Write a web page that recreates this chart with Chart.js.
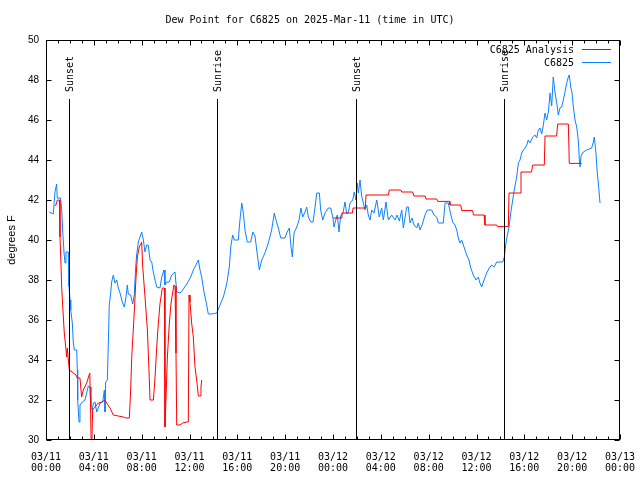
<!DOCTYPE html>
<html>
<head>
<meta charset="utf-8">
<title>Dew Point for C6825</title>
<script src="https://cdn.jsdelivr.net/npm/chart.js@4.4.1/dist/chart.umd.min.js"></script>
<style>
  html, body { margin: 0; padding: 0; background: #fff; }
</style>
</head>
<body>
<canvas id="dewChart" width="640" height="480"></canvas>
<script>
// hours since 03/11 00:00 UTC
const blueHours = [
  0.28, 0.61, 0.75, 0.89, 0.94, 1.21, 1.31, 1.40, 1.51, 1.59, 1.67, 1.86, 1.92, 2.01, 2.07, 2.20,
  2.28, 2.37, 2.57, 2.62, 2.65, 2.76, 2.84, 3.04, 3.26, 3.40, 3.54, 3.68, 3.76, 3.87, 3.96, 4.10,
  4.24, 4.37, 4.52, 4.74, 4.88, 4.93, 4.99, 5.13, 5.21, 5.29, 5.41, 5.49, 5.63, 5.77, 5.91, 6.05,
  6.19, 6.38, 6.55, 6.69, 6.80, 6.88, 7.08, 7.25, 7.38, 7.50, 7.58, 7.72, 7.86, 8.00, 8.14, 8.28,
  8.42, 8.55, 8.70, 8.84, 8.97, 9.12, 9.26, 9.53, 9.68, 9.87, 9.95, 10.09, 10.31, 10.51, 10.79, 10.93,
  11.21, 11.43, 11.77, 12.10, 12.32, 12.54, 12.74, 12.88, 13.02, 13.21, 13.44, 13.57, 13.86, 14.28, 14.55, 14.83,
  15.11, 15.33, 15.45, 15.61, 15.75, 16.08, 16.22, 16.37, 16.50, 16.64, 16.83, 17.12, 17.29, 17.48, 17.62, 17.84,
  18.04, 18.31, 18.59, 18.87, 19.09, 19.23, 19.43, 19.63, 19.99, 20.13, 20.35, 20.49, 20.60, 20.74, 20.97, 21.16,
  21.32, 21.47, 21.66, 21.80, 21.94, 22.14, 22.33, 22.50, 22.64, 22.86, 22.97, 23.14, 23.33, 23.61, 23.81, 23.98,
  24.08, 24.23, 24.36, 24.50, 24.64, 24.84, 25.00, 25.15, 25.30, 25.42, 25.65, 25.78, 25.92, 26.03, 26.12, 26.26,
  26.40, 26.53, 26.68, 26.82, 26.95, 27.10, 27.24, 27.43, 27.66, 27.87, 28.07, 28.21, 28.43, 28.63, 28.91, 29.19,
  29.35, 29.55, 29.75, 29.88, 30.02, 30.16, 30.30, 30.44, 30.61, 30.77, 31.00, 31.13, 31.28, 31.50, 31.69, 31.89,
  32.25, 32.45, 32.67, 32.81, 33.22, 33.37, 33.64, 33.84, 34.01, 34.20, 34.35, 34.48, 34.62, 34.76, 34.90, 35.04,
  35.18, 35.37, 35.52, 35.73, 35.96, 36.15, 36.29, 36.43, 36.57, 36.85, 37.07, 37.27, 37.46, 37.69, 38.19, 38.33,
  38.44, 38.58, 38.72, 38.86, 39.03, 39.16, 39.36, 39.50, 39.64, 39.78, 39.92, 40.06, 40.20, 40.33, 40.47, 40.70,
  40.89, 41.03, 41.17, 41.31, 41.45, 41.59, 41.73, 41.87, 42.01, 42.15, 42.29, 42.42, 42.57, 42.71, 42.84, 42.98,
  43.12, 43.26, 43.40, 43.54, 43.68, 43.76, 43.88, 43.99, 44.10, 44.24, 44.38, 44.51, 44.60, 44.66, 44.74, 44.93,
  45.22, 45.63, 45.77, 45.85, 45.99, 46.10, 46.22, 46.33
];
const blueValues = [
  41.4, 41.3, 42.4, 42.8, 42.1, 42.1, 41.55, 40.4, 39.35, 38.85, 39.4, 39.4, 37.7, 37.0, 36.5, 35.85,
  34.9, 34.5, 34.5, 33.5, 32.0, 30.9, 31.75, 31.9, 32.0, 32.35, 32.7, 32.65, 31.65, 31.5, 31.85, 31.9,
  31.4, 31.6, 31.85, 31.9, 32.5, 31.4, 32.9, 33.0, 34.8, 36.75, 37.35, 37.9, 38.25, 37.85, 38.0, 37.6,
  37.35, 36.9, 36.65, 37.15, 37.75, 37.3, 37.25, 36.8, 37.25, 38.65, 39.25, 39.9, 40.15, 40.4, 40.0, 39.4,
  39.75, 39.75, 39.0, 38.9, 38.4, 38.0, 37.65, 37.6, 38.15, 38.5, 37.75, 37.9, 37.9, 38.25, 38.4, 37.4,
  37.35, 37.5, 37.8, 38.15, 38.5, 38.75, 39.0, 38.5, 38.15, 37.4, 36.75, 36.3, 36.3, 36.35, 36.75, 37.15,
  37.8, 38.65, 39.65, 40.25, 40.0, 40.0, 41.0, 41.85, 41.35, 40.5, 39.9, 39.9, 40.4, 40.2, 39.5, 38.5,
  39.0, 39.35, 39.85, 40.5, 41.35, 41.0, 40.6, 40.1, 40.1, 40.35, 40.6, 39.65, 39.15, 40.35, 40.65, 41.0,
  41.6, 41.15, 41.4, 41.65, 41.15, 40.9, 40.9, 41.65, 42.35, 42.35, 41.5, 41.0, 41.35, 41.6, 41.6, 41.15,
  40.65, 41.0, 41.25, 40.4, 41.2, 41.35, 41.9, 41.3, 41.4, 41.85, 42.0, 42.4, 42.0, 42.85, 42.35, 43.0,
  42.2, 41.85, 41.5, 41.75, 41.25, 41.0, 41.5, 41.35, 42.0, 41.15, 41.6, 41.0, 41.9, 41.0, 41.25, 41.0,
  41.25, 40.95, 41.5, 40.6, 41.1, 41.65, 41.65, 40.85, 41.1, 40.75, 40.6, 40.85, 40.5, 40.85, 41.25, 41.5,
  41.5, 41.25, 41.15, 40.85, 40.85, 41.85, 41.85, 41.3, 40.9, 40.75, 40.5, 40.1, 39.85, 40.0, 39.75, 39.5,
  39.25, 39.0, 38.6, 38.25, 38.0, 38.15, 37.85, 37.65, 37.9, 38.35, 38.6, 38.75, 38.65, 38.9, 38.9, 39.15,
  39.75, 40.25, 40.65, 41.35, 42.0, 42.5, 43.15, 43.85, 44.0, 44.35, 44.5, 44.6, 44.75, 45.0, 44.85, 45.15,
  45.25, 45.1, 45.5, 45.6, 45.3, 45.75, 46.35, 46.0, 46.4, 47.35, 46.7, 48.15, 47.35, 46.85, 46.25, 46.6,
  46.65, 47.0, 47.4, 47.85, 48.15, 48.25, 47.65, 47.35, 46.65, 46.0, 45.65, 45.0, 44.0, 43.65, 44.2, 44.4,
  44.5, 44.6, 44.9, 45.15, 44.35, 43.35, 42.65, 41.85
];

const redHours = [
  0.80, 0.95, 1.12, 1.17, 1.25, 1.31, 1.45, 1.53, 1.65, 1.73, 1.78, 1.87, 1.95, 2.29, 2.51, 2.62,
  2.84, 2.98, 3.12, 3.40, 3.66, 3.72, 3.80, 3.90, 4.10, 4.38, 4.66, 4.93, 5.07, 5.35, 5.63, 6.05,
  6.47, 6.69, 6.97, 7.08, 7.17, 7.36, 7.53, 7.64, 7.80, 8.00, 8.09, 8.28, 8.48, 8.61, 8.70, 8.98,
  9.12, 9.26, 9.39, 9.53, 9.73, 9.90, 9.95, 10.03, 10.15, 10.31, 10.45, 10.60, 10.70, 10.79, 10.87, 10.93,
  11.20, 11.43, 11.77, 11.90, 11.96, 12.04, 12.18, 12.32, 12.46, 12.60, 12.74, 12.88, 12.96, 13.02,
  18.00,
  24.03, 24.70, 24.75, 25.62, 25.68, 26.70, 26.76, 28.63, 28.71, 29.66, 29.75, 30.66, 30.77, 31.70, 31.78, 32.67,
  32.76, 33.73, 33.78, 34.68, 34.76, 35.68, 35.74, 36.63, 36.71, 37.69, 37.74, 38.66, 38.72, 39.64, 39.72, 40.60,
  40.70, 41.67, 41.73, 42.70, 42.79, 43.68, 43.76, 44.80
];
const redValues = [
  41.7, 42.0, 42.0, 40.15, 38.85, 37.65, 36.15, 35.35, 34.65, 34.15, 34.6, 34.0, 33.5, 33.35, 33.25, 33.1,
  33.1, 32.15, 32.5, 32.85, 33.35, 31.85, 29.0, 31.5, 31.65, 31.85, 31.9, 32.0, 31.85, 31.6, 31.25, 31.2,
  31.15, 31.1, 31.1, 32.5, 34.15, 36.15, 38.15, 39.15, 39.65, 39.9, 38.65, 37.15, 35.5, 33.5, 32.0, 32.0,
  33.15, 34.65, 35.8, 36.8, 37.6, 37.6, 30.65, 32.0, 34.15, 35.8, 36.8, 37.4, 37.75, 37.7, 34.35, 30.75,
  30.75, 30.85, 30.9, 30.9, 37.25, 36.9, 35.85, 35.15, 33.65, 33.0, 32.2, 32.2, 32.65, 33.0,
  null,
  41.1, 41.1, 41.35, 41.35, 41.6, 41.6, 42.25, 42.25, 42.5, 42.5, 42.4, 42.4, 42.2, 42.2, 42.05, 42.05,
  41.93, 41.93, 41.75, 41.75, 41.47, 41.47, 41.25, 41.25, 40.75, 40.75, 40.67, 40.67, 42.35, 42.35, 43.4, 43.4,
  43.75, 43.75, 45.2, 45.2, 45.8, 45.8, 43.83, 43.83
];

const xTickDates = ['03/11', '03/11', '03/11', '03/11', '03/11', '03/11', '03/12', '03/12', '03/12', '03/12', '03/12', '03/12', '03/13'];
const xTickTimes = ['00:00', '04:00', '08:00', '12:00', '16:00', '20:00', '00:00', '04:00', '08:00', '12:00', '16:00', '20:00', '00:00'];

const sunHours = [1.95, 14.33, 25.92, 38.33];
const sunLabels = ['Sunset', 'Sunrise', 'Sunset', 'Sunrise'];

const monoFont = '10px "DejaVu Sans Mono", monospace';

const gnuplotDecor = {
  id: 'gnuplotDecor',
  afterDatasetsDraw(chart) {
    const { ctx, chartArea: area, scales: { x, y } } = chart;
    ctx.save();
    ctx.strokeStyle = '#000';
    ctx.lineWidth = 1;
    ctx.fillStyle = '#000';
    ctx.font = monoFont;
    sunHours.forEach((h, i) => {
      const px = Math.round(x.getPixelForValue(h)) + 0.5;
      ctx.beginPath();
      ctx.moveTo(px, y.getPixelForValue(47.05));
      ctx.lineTo(px, area.bottom);
      ctx.stroke();
      ctx.save();
      ctx.translate(px + 1, y.getPixelForValue(47.4));
      ctx.rotate(-Math.PI / 2);
      ctx.textAlign = 'left';
      ctx.textBaseline = 'middle';
      ctx.fillText(sunLabels[i], 0, 0);
      ctx.restore();
    });
    ctx.restore();
  },
  afterDraw(chart) {
    const { ctx, chartArea: area, scales: { x, y } } = chart;
    ctx.save();
    ctx.strokeStyle = '#000';
    ctx.lineWidth = 1;
    const l = area.left + 0.5, r = area.right - 0.5, t = area.top + 0.5, b = area.bottom - 0.5;
    ctx.beginPath();
    // x ticks, every hour, longer every 4 hours
    for (let h = 0; h <= 48; h++) {
      const px = Math.round(x.getPixelForValue(h)) + 0.5;
      const len = h % 4 === 0 ? 5 : 3;
      ctx.moveTo(px, b); ctx.lineTo(px, b - len);
      ctx.moveTo(px, t); ctx.lineTo(px, t + len);
    }
    for (let v = 30; v <= 50; v += 2) {
      const py = Math.round(y.getPixelForValue(v)) + 0.5;
      ctx.moveTo(l, py); ctx.lineTo(l + 5, py);
      ctx.moveTo(r, py); ctx.lineTo(r - 5, py);
    }
    ctx.stroke();
    ctx.strokeRect(l, t, r - l, b - t);

    // legend, top right inside the plot
    ctx.font = monoFont;
    ctx.textAlign = 'right';
    ctx.textBaseline = 'middle';
    ctx.fillStyle = '#000';
    chart.data.datasets.forEach((ds, i) => {
      const ly = 50 + i * 13;
      ctx.fillText(ds.label, 574, ly);
      ctx.strokeStyle = ds.borderColor;
      ctx.beginPath();
      ctx.moveTo(582, ly - 0.5);
      ctx.lineTo(611, ly - 0.5);
      ctx.stroke();
    });
    ctx.restore();
  }
};

new Chart(document.getElementById('dewChart'), {
  type: 'line',
  data: {
    datasets: [{
      label: 'C6825 Analysis',
      data: redHours.map((h, i) => ({ x: h, y: redValues[i] })),
      borderColor: '#ff0000',
      borderWidth: 1,
      pointRadius: 0,
      tension: 0,
      spanGaps: false
    }, {
      label: 'C6825',
      data: blueHours.map((h, i) => ({ x: h, y: blueValues[i] })),
      borderColor: '#0a82ff',
      borderWidth: 1,
      pointRadius: 0,
      tension: 0
    }]
  },
  options: {
    responsive: false,
    animation: false,
    events: [],
    layout: { padding: { left: 0, right: 20, top: 0, bottom: 0 } },
    plugins: {
      legend: { display: false },
      tooltip: { enabled: false },
      title: {
        display: true,
        text: 'Dew Point for C6825 on 2025-Mar-11 (time in UTC)',
        color: '#000',
        font: { family: '"DejaVu Sans Mono", monospace', size: 10, weight: 'normal', lineHeight: 1.2 },
        padding: { top: 14, bottom: 14 }
      }
    },
    scales: {
      x: {
        type: 'linear',
        min: 0,
        max: 48,
        grid: { display: false, drawTicks: false },
        border: { display: false },
        afterFit: (s) => { s.height = 40; s.paddingLeft = 0; s.paddingRight = 0; },
        ticks: {
          stepSize: 4,
          autoSkip: false,
          maxRotation: 0,
          padding: 12,
          color: '#000',
          font: { family: '"DejaVu Sans Mono", monospace', size: 10, lineHeight: 1.1 },
          callback: (v) => [xTickDates[v / 4], xTickTimes[v / 4]]
        }
      },
      y: {
        min: 30,
        max: 50,
        grid: { display: false, drawTicks: false },
        border: { display: false },
        afterFit: (s) => { s.width = 46; s.paddingTop = 0; s.paddingBottom = 0; },
        title: {
          display: true,
          text: 'degrees F',
          color: '#000',
          font: { family: '"Liberation Sans", sans-serif', size: 11 },
          padding: { top: 5, bottom: 0 }
        },
        ticks: {
          stepSize: 2,
          padding: 7,
          color: '#000',
          font: { family: '"Liberation Sans", sans-serif', size: 10 }
        }
      }
    }
  },
  plugins: [gnuplotDecor]
});
</script>
</body>
</html>
